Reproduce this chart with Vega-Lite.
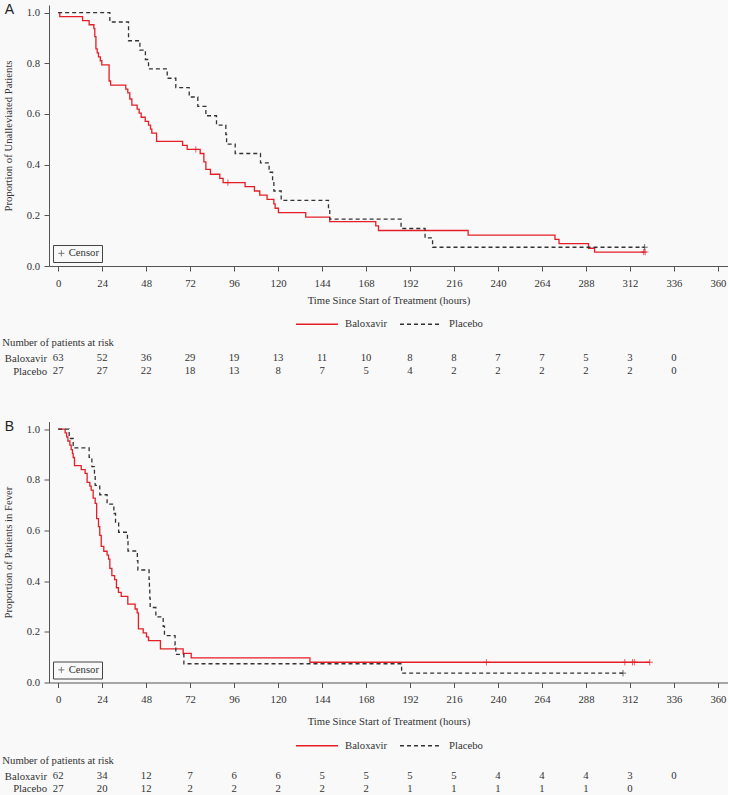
{
  "$schema": "https://vega.github.io/schema/vega-lite/v6.json",
  "background": "#f9f9f9",
  "padding": {"left": 2, "top": 3, "right": 0, "bottom": 0},
  "config": {
    "font": "Liberation Serif",
    "view": {"stroke": null},
    "axis": {"labelFont": "Liberation Serif", "titleFont": "Liberation Serif", "labelFontSize": 10.7, "titleFontSize": 10.7, "titleFontWeight": "normal", "labelColor": "#333333", "titleColor": "#333333", "domainColor": "#555555", "tickColor": "#555555", "grid": false, "tickSize": 5},
    "legend": {"labelFont": "Liberation Serif", "labelFontSize": 10.7, "labelColor": "#333333", "layout": {"bottom": {"anchor": "middle"}}},
    "title": {"font": "Liberation Serif", "fontSize": 10.7, "fontWeight": "normal", "color": "#333333"},
    "text": {"font": "Liberation Serif"}
  },
  "datasets": {
    "kmA": [
      {"t": 0, "s": 1, "g": "Baloxavir"}, {"t": 0.9, "s": 0.984, "g": "Baloxavir"}, {"t": 13.3, "s": 0.968, "g": "Baloxavir"}, {"t": 16.9, "s": 0.952, "g": "Baloxavir"}, {"t": 19.5, "s": 0.937, "g": "Baloxavir"}, {"t": 20.0, "s": 0.905, "g": "Baloxavir"}, {"t": 20.6, "s": 0.857, "g": "Baloxavir"}, {"t": 21.3, "s": 0.841, "g": "Baloxavir"}, {"t": 22.0, "s": 0.825, "g": "Baloxavir"}, {"t": 23.0, "s": 0.81, "g": "Baloxavir"}, {"t": 23.8, "s": 0.794, "g": "Baloxavir"}, {"t": 27.8, "s": 0.73, "g": "Baloxavir"}, {"t": 28.6, "s": 0.714, "g": "Baloxavir"}, {"t": 36.9, "s": 0.698, "g": "Baloxavir"}, {"t": 38.0, "s": 0.683, "g": "Baloxavir"}, {"t": 39.1, "s": 0.659, "g": "Baloxavir"}, {"t": 40.2, "s": 0.635, "g": "Baloxavir"}, {"t": 43.1, "s": 0.619, "g": "Baloxavir"}, {"t": 44.2, "s": 0.603, "g": "Baloxavir"}, {"t": 45.3, "s": 0.587, "g": "Baloxavir"}, {"t": 47.5, "s": 0.571, "g": "Baloxavir"}, {"t": 49.3, "s": 0.556, "g": "Baloxavir"}, {"t": 50.4, "s": 0.54, "g": "Baloxavir"}, {"t": 51.1, "s": 0.524, "g": "Baloxavir"}, {"t": 53.7, "s": 0.492, "g": "Baloxavir"}, {"t": 67.9, "s": 0.476, "g": "Baloxavir"}, {"t": 70.4, "s": 0.46, "g": "Baloxavir"}, {"t": 77.5, "s": 0.444, "g": "Baloxavir"}, {"t": 79.5, "s": 0.411, "g": "Baloxavir"}, {"t": 80.6, "s": 0.381, "g": "Baloxavir"}, {"t": 83.1, "s": 0.362, "g": "Baloxavir"}, {"t": 88.2, "s": 0.346, "g": "Baloxavir"}, {"t": 90.0, "s": 0.329, "g": "Baloxavir"}, {"t": 102.0, "s": 0.313, "g": "Baloxavir"}, {"t": 107.1, "s": 0.296, "g": "Baloxavir"}, {"t": 110.0, "s": 0.28, "g": "Baloxavir"}, {"t": 114.0, "s": 0.263, "g": "Baloxavir"}, {"t": 117.7, "s": 0.245, "g": "Baloxavir"}, {"t": 118.4, "s": 0.228, "g": "Baloxavir"}, {"t": 120.2, "s": 0.211, "g": "Baloxavir"}, {"t": 135.1, "s": 0.193, "g": "Baloxavir"}, {"t": 148.2, "s": 0.175, "g": "Baloxavir"}, {"t": 173.3, "s": 0.158, "g": "Baloxavir"}, {"t": 174.8, "s": 0.14, "g": "Baloxavir"}, {"t": 223.7, "s": 0.122, "g": "Baloxavir"}, {"t": 271.1, "s": 0.105, "g": "Baloxavir"}, {"t": 273.3, "s": 0.088, "g": "Baloxavir"}, {"t": 289.4, "s": 0.07, "g": "Baloxavir"}, {"t": 292.7, "s": 0.055, "g": "Baloxavir"}, {"t": 320.3, "s": 0.055, "g": "Baloxavir"},
      {"t": 0, "s": 1, "g": "Placebo"}, {"t": 28.2, "s": 0.963, "g": "Placebo"}, {"t": 38.4, "s": 0.889, "g": "Placebo"}, {"t": 44.6, "s": 0.852, "g": "Placebo"}, {"t": 47.6, "s": 0.815, "g": "Placebo"}, {"t": 49.3, "s": 0.778, "g": "Placebo"}, {"t": 59.5, "s": 0.741, "g": "Placebo"}, {"t": 64.2, "s": 0.704, "g": "Placebo"}, {"t": 71.5, "s": 0.667, "g": "Placebo"}, {"t": 76.2, "s": 0.63, "g": "Placebo"}, {"t": 80.6, "s": 0.593, "g": "Placebo"}, {"t": 86.4, "s": 0.556, "g": "Placebo"}, {"t": 91.5, "s": 0.519, "g": "Placebo"}, {"t": 91.9, "s": 0.481, "g": "Placebo"}, {"t": 96.6, "s": 0.444, "g": "Placebo"}, {"t": 110.4, "s": 0.407, "g": "Placebo"}, {"t": 115.1, "s": 0.37, "g": "Placebo"}, {"t": 117.0, "s": 0.333, "g": "Placebo"}, {"t": 117.7, "s": 0.296, "g": "Placebo"}, {"t": 121.7, "s": 0.259, "g": "Placebo"}, {"t": 147.5, "s": 0.222, "g": "Placebo"}, {"t": 148.2, "s": 0.185, "g": "Placebo"}, {"t": 187.1, "s": 0.148, "g": "Placebo"}, {"t": 200.2, "s": 0.111, "g": "Placebo"}, {"t": 204.3, "s": 0.074, "g": "Placebo"}, {"t": 320.0, "s": 0.074, "g": "Placebo"}
    ],
    "censA": [
      {"t": 75.1, "s": 0.46, "g": "Baloxavir", "k": "Censor"}, {"t": 92.6, "s": 0.329, "g": "Baloxavir", "k": "Censor"}, {"t": 319.5, "s": 0.055, "g": "Baloxavir", "k": "Censor"}, {"t": 320.3, "s": 0.055, "g": "Baloxavir", "k": "Censor"}, {"t": 320.0, "s": 0.074, "g": "Placebo", "k": "Censor"}
    ],
    "riskA": [
      {"t": 0, "g": "Baloxavir", "n": "63"}, {"t": 24, "g": "Baloxavir", "n": "52"}, {"t": 48, "g": "Baloxavir", "n": "36"}, {"t": 72, "g": "Baloxavir", "n": "29"}, {"t": 96, "g": "Baloxavir", "n": "19"}, {"t": 120, "g": "Baloxavir", "n": "13"}, {"t": 144, "g": "Baloxavir", "n": "11"}, {"t": 168, "g": "Baloxavir", "n": "10"}, {"t": 192, "g": "Baloxavir", "n": "8"}, {"t": 216, "g": "Baloxavir", "n": "8"}, {"t": 240, "g": "Baloxavir", "n": "7"}, {"t": 264, "g": "Baloxavir", "n": "7"}, {"t": 288, "g": "Baloxavir", "n": "5"}, {"t": 312, "g": "Baloxavir", "n": "3"}, {"t": 336, "g": "Baloxavir", "n": "0"},
      {"t": 0, "g": "Placebo", "n": "27"}, {"t": 24, "g": "Placebo", "n": "27"}, {"t": 48, "g": "Placebo", "n": "22"}, {"t": 72, "g": "Placebo", "n": "18"}, {"t": 96, "g": "Placebo", "n": "13"}, {"t": 120, "g": "Placebo", "n": "8"}, {"t": 144, "g": "Placebo", "n": "7"}, {"t": 168, "g": "Placebo", "n": "5"}, {"t": 192, "g": "Placebo", "n": "4"}, {"t": 216, "g": "Placebo", "n": "2"}, {"t": 240, "g": "Placebo", "n": "2"}, {"t": 264, "g": "Placebo", "n": "2"}, {"t": 288, "g": "Placebo", "n": "2"}, {"t": 312, "g": "Placebo", "n": "2"}, {"t": 336, "g": "Placebo", "n": "0"}
    ],
    "kmB": [
      {"t": 0, "s": 1, "g": "Baloxavir"}, {"t": 3.8, "s": 0.985, "g": "Baloxavir"}, {"t": 4.6, "s": 0.969, "g": "Baloxavir"}, {"t": 5.3, "s": 0.953, "g": "Baloxavir"}, {"t": 6.4, "s": 0.937, "g": "Baloxavir"}, {"t": 7.1, "s": 0.919, "g": "Baloxavir"}, {"t": 7.8, "s": 0.903, "g": "Baloxavir"}, {"t": 8.2, "s": 0.888, "g": "Baloxavir"}, {"t": 8.9, "s": 0.856, "g": "Baloxavir"}, {"t": 12.6, "s": 0.84, "g": "Baloxavir"}, {"t": 14.7, "s": 0.825, "g": "Baloxavir"}, {"t": 15.8, "s": 0.79, "g": "Baloxavir"}, {"t": 17.3, "s": 0.775, "g": "Baloxavir"}, {"t": 18.0, "s": 0.759, "g": "Baloxavir"}, {"t": 19.1, "s": 0.728, "g": "Baloxavir"}, {"t": 20.2, "s": 0.707, "g": "Baloxavir"}, {"t": 21.0, "s": 0.647, "g": "Baloxavir"}, {"t": 22.0, "s": 0.615, "g": "Baloxavir"}, {"t": 22.7, "s": 0.581, "g": "Baloxavir"}, {"t": 23.5, "s": 0.537, "g": "Baloxavir"}, {"t": 24.9, "s": 0.518, "g": "Baloxavir"}, {"t": 26.7, "s": 0.503, "g": "Baloxavir"}, {"t": 27.5, "s": 0.487, "g": "Baloxavir"}, {"t": 28.2, "s": 0.45, "g": "Baloxavir"}, {"t": 29.3, "s": 0.422, "g": "Baloxavir"}, {"t": 30.8, "s": 0.406, "g": "Baloxavir"}, {"t": 31.8, "s": 0.374, "g": "Baloxavir"}, {"t": 32.9, "s": 0.356, "g": "Baloxavir"}, {"t": 34.4, "s": 0.34, "g": "Baloxavir"}, {"t": 38.0, "s": 0.309, "g": "Baloxavir"}, {"t": 42.0, "s": 0.29, "g": "Baloxavir"}, {"t": 43.1, "s": 0.275, "g": "Baloxavir"}, {"t": 43.8, "s": 0.212, "g": "Baloxavir"}, {"t": 46.4, "s": 0.196, "g": "Baloxavir"}, {"t": 48.2, "s": 0.18, "g": "Baloxavir"}, {"t": 49.3, "s": 0.165, "g": "Baloxavir"}, {"t": 55.8, "s": 0.133, "g": "Baloxavir"}, {"t": 68.2, "s": 0.115, "g": "Baloxavir"}, {"t": 72.6, "s": 0.097, "g": "Baloxavir"}, {"t": 137.4, "s": 0.08, "g": "Baloxavir"}, {"t": 322.9, "s": 0.08, "g": "Baloxavir"},
      {"t": 0, "s": 1, "g": "Placebo"}, {"t": 6.0, "s": 0.963, "g": "Placebo"}, {"t": 8.2, "s": 0.926, "g": "Placebo"}, {"t": 16.9, "s": 0.889, "g": "Placebo"}, {"t": 18.4, "s": 0.852, "g": "Placebo"}, {"t": 19.8, "s": 0.815, "g": "Placebo"}, {"t": 20.2, "s": 0.778, "g": "Placebo"}, {"t": 22.7, "s": 0.741, "g": "Placebo"}, {"t": 26.7, "s": 0.704, "g": "Placebo"}, {"t": 30.4, "s": 0.667, "g": "Placebo"}, {"t": 31.3, "s": 0.63, "g": "Placebo"}, {"t": 33.0, "s": 0.593, "g": "Placebo"}, {"t": 37.8, "s": 0.556, "g": "Placebo"}, {"t": 38.1, "s": 0.519, "g": "Placebo"}, {"t": 43.2, "s": 0.481, "g": "Placebo"}, {"t": 43.5, "s": 0.444, "g": "Placebo"}, {"t": 49.6, "s": 0.407, "g": "Placebo"}, {"t": 49.8, "s": 0.37, "g": "Placebo"}, {"t": 50.0, "s": 0.333, "g": "Placebo"}, {"t": 50.2, "s": 0.296, "g": "Placebo"}, {"t": 53.3, "s": 0.259, "g": "Placebo"}, {"t": 57.3, "s": 0.222, "g": "Placebo"}, {"t": 58.0, "s": 0.185, "g": "Placebo"}, {"t": 63.8, "s": 0.148, "g": "Placebo"}, {"t": 64.2, "s": 0.111, "g": "Placebo"}, {"t": 68.6, "s": 0.074, "g": "Placebo"}, {"t": 187.4, "s": 0.037, "g": "Placebo"}, {"t": 308.2, "s": 0.037, "g": "Placebo"}
    ],
    "censB": [
      {"t": 233.7, "s": 0.08, "g": "Baloxavir", "k": "Censor"}, {"t": 309.2, "s": 0.08, "g": "Baloxavir", "k": "Censor"}, {"t": 313.4, "s": 0.08, "g": "Baloxavir", "k": "Censor"}, {"t": 314.4, "s": 0.08, "g": "Baloxavir", "k": "Censor"}, {"t": 322.8, "s": 0.08, "g": "Baloxavir", "k": "Censor"}, {"t": 308.2, "s": 0.037, "g": "Placebo", "k": "Censor"}
    ],
    "riskB": [
      {"t": 0, "g": "Baloxavir", "n": "62"}, {"t": 24, "g": "Baloxavir", "n": "34"}, {"t": 48, "g": "Baloxavir", "n": "12"}, {"t": 72, "g": "Baloxavir", "n": "7"}, {"t": 96, "g": "Baloxavir", "n": "6"}, {"t": 120, "g": "Baloxavir", "n": "6"}, {"t": 144, "g": "Baloxavir", "n": "5"}, {"t": 168, "g": "Baloxavir", "n": "5"}, {"t": 192, "g": "Baloxavir", "n": "5"}, {"t": 216, "g": "Baloxavir", "n": "5"}, {"t": 240, "g": "Baloxavir", "n": "4"}, {"t": 264, "g": "Baloxavir", "n": "4"}, {"t": 288, "g": "Baloxavir", "n": "4"}, {"t": 312, "g": "Baloxavir", "n": "3"}, {"t": 336, "g": "Baloxavir", "n": "0"},
      {"t": 0, "g": "Placebo", "n": "27"}, {"t": 24, "g": "Placebo", "n": "20"}, {"t": 48, "g": "Placebo", "n": "12"}, {"t": 72, "g": "Placebo", "n": "2"}, {"t": 96, "g": "Placebo", "n": "2"}, {"t": 120, "g": "Placebo", "n": "2"}, {"t": 144, "g": "Placebo", "n": "2"}, {"t": 168, "g": "Placebo", "n": "2"}, {"t": 192, "g": "Placebo", "n": "1"}, {"t": 216, "g": "Placebo", "n": "1"}, {"t": 240, "g": "Placebo", "n": "1"}, {"t": 264, "g": "Placebo", "n": "1"}, {"t": 288, "g": "Placebo", "n": "1"}, {"t": 312, "g": "Placebo", "n": "0"}
    ]
  },
  "spacing": 41.5,
  "resolve": {"scale": {"x": "independent", "y": "independent", "color": "independent", "strokeDash": "independent", "shape": "independent"}, "legend": {"color": "independent", "strokeDash": "independent", "shape": "independent"}},
  "vconcat": [
    {
      "spacing": 8,
      "resolve": {"scale": {"x": "independent", "y": "independent", "color": "independent", "strokeDash": "independent", "shape": "independent"}, "legend": {"color": "independent", "strokeDash": "independent", "shape": "independent"}},
      "vconcat": [
        {
          "width": 679, "height": 261,
          "title": {"text": "A", "anchor": "start", "frame": "bounds", "font": "Liberation Sans", "fontSize": 14, "offset": -12, "dx": 2, "color": "#222222"},
          "layer": [
            {
              "data": {"name": "kmA"},
              "mark": {"type": "line", "interpolate": "step-after", "strokeWidth": 1.3},
              "encoding": {
                "x": {"field": "t", "type": "quantitative", "scale": {"domain": [-5, 365.5], "nice": false, "zero": false}, "axis": {"values": [0, 24, 48, 72, 96, 120, 144, 168, 192, 216, 240, 264, 288, 312, 336, 360], "title": "Time Since Start of Treatment (hours)", "labelFont": "Liberation Serif", "titleFont": "Liberation Serif", "labelPadding": 7, "titlePadding": 7.5}},
                "y": {"field": "s", "type": "quantitative", "scale": {"domain": [0, 1.03], "nice": false}, "axis": {"values": [0, 0.2, 0.4, 0.6, 0.8, 1.0], "format": ".1f", "title": "Proportion of Unalleviated Patients", "labelFont": "Liberation Serif", "titleFont": "Liberation Serif", "labelPadding": 4.5, "titlePadding": 12.5}},
                "color": {"field": "g", "type": "nominal", "scale": {"domain": ["Baloxavir", "Placebo"], "range": ["#e41e26", "#333333"]}, "legend": {"title": null, "orient": "bottom", "direction": "horizontal", "symbolType": "stroke", "symbolSize": 1764, "symbolStrokeWidth": 1.5, "labelOffset": 6, "columnPadding": 9, "offset": -3.5, "labelFont": "Liberation Serif"}},
                "strokeDash": {"field": "g", "type": "nominal", "scale": {"domain": ["Baloxavir", "Placebo"], "range": [[1, 0], [4, 3]]}, "legend": {"title": null, "orient": "bottom", "direction": "horizontal", "symbolType": "stroke", "symbolSize": 1764, "symbolStrokeWidth": 1.5, "labelOffset": 6, "columnPadding": 9, "offset": -3.5, "labelFont": "Liberation Serif"}}
              }
            },
            {
              "data": {"name": "censA"},
              "mark": {"type": "point", "filled": false, "strokeWidth": 1, "size": 40},
              "encoding": {
                "x": {"field": "t", "type": "quantitative"},
                "y": {"field": "s", "type": "quantitative"},
                "color": {"field": "g", "type": "nominal", "legend": null},
                "shape": {"field": "k", "type": "nominal", "scale": {"domain": ["Censor"], "range": ["M-1,0H1M0,-1V1"]}, "legend": {"title": null, "orient": "bottom-left", "strokeColor": "#444444", "padding": 3, "offset": 4, "symbolSize": 36, "symbolStrokeColor": "#444444", "symbolStrokeWidth": 1, "symbolFillColor": "transparent", "labelOffset": 2, "labelFont": "Liberation Serif"}}
              }
            }
          ]
        },
        {
          "width": 679, "height": 25.4,
          "title": {"text": "Number of patients at risk", "anchor": "start", "frame": "bounds", "offset": 3, "dx": -2, "font": "Liberation Serif"},
          "data": {"name": "riskA"},
          "mark": {"type": "text", "baseline": "middle", "align": "center", "fontSize": 10.7, "font": "Liberation Serif", "color": "#333333"},
          "encoding": {
            "x": {"field": "t", "type": "quantitative", "scale": {"domain": [-5, 365.5], "nice": false, "zero": false}, "axis": null},
            "y": {"field": "g", "type": "nominal", "scale": {"domain": ["Baloxavir", "Placebo"], "paddingInner": 0, "paddingOuter": 0}, "axis": {"title": null, "ticks": false, "domain": false, "labelPadding": 2.5, "labelFont": "Liberation Serif"}},
            "text": {"field": "n", "type": "nominal"}
          }
        }
      ]
    },
    {
      "spacing": 4.35,
      "resolve": {"scale": {"x": "independent", "y": "independent", "color": "independent", "strokeDash": "independent", "shape": "independent"}, "legend": {"color": "independent", "strokeDash": "independent", "shape": "independent"}},
      "vconcat": [
        {
          "width": 679, "height": 261,
          "title": {"text": "B", "anchor": "start", "frame": "bounds", "font": "Liberation Sans", "fontSize": 14, "offset": -12, "dx": 2, "color": "#222222"},
          "layer": [
            {
              "data": {"name": "kmB"},
              "mark": {"type": "line", "interpolate": "step-after", "strokeWidth": 1.3},
              "encoding": {
                "x": {"field": "t", "type": "quantitative", "scale": {"domain": [-5, 365.5], "nice": false, "zero": false}, "axis": {"values": [0, 24, 48, 72, 96, 120, 144, 168, 192, 216, 240, 264, 288, 312, 336, 360], "title": "Time Since Start of Treatment (hours)", "labelFont": "Liberation Serif", "titleFont": "Liberation Serif", "labelPadding": 7, "titlePadding": 12.5}},
                "y": {"field": "s", "type": "quantitative", "scale": {"domain": [0, 1.03], "nice": false}, "axis": {"values": [0, 0.2, 0.4, 0.6, 0.8, 1.0], "format": ".1f", "title": "Proportion of Patients in Fever", "labelFont": "Liberation Serif", "titleFont": "Liberation Serif", "labelPadding": 4.5, "titlePadding": 12.5}},
                "color": {"field": "g", "type": "nominal", "scale": {"domain": ["Baloxavir", "Placebo"], "range": ["#e41e26", "#333333"]}, "legend": {"title": null, "orient": "bottom", "direction": "horizontal", "symbolType": "stroke", "symbolSize": 1764, "symbolStrokeWidth": 1.5, "labelOffset": 6, "columnPadding": 9, "offset": -3.5, "labelFont": "Liberation Serif"}},
                "strokeDash": {"field": "g", "type": "nominal", "scale": {"domain": ["Baloxavir", "Placebo"], "range": [[1, 0], [4, 3]]}, "legend": {"title": null, "orient": "bottom", "direction": "horizontal", "symbolType": "stroke", "symbolSize": 1764, "symbolStrokeWidth": 1.5, "labelOffset": 6, "columnPadding": 9, "offset": -3.5, "labelFont": "Liberation Serif"}}
              }
            },
            {
              "data": {"name": "censB"},
              "mark": {"type": "point", "filled": false, "strokeWidth": 1, "size": 40},
              "encoding": {
                "x": {"field": "t", "type": "quantitative"},
                "y": {"field": "s", "type": "quantitative"},
                "color": {"field": "g", "type": "nominal", "legend": null},
                "shape": {"field": "k", "type": "nominal", "scale": {"domain": ["Censor"], "range": ["M-1,0H1M0,-1V1"]}, "legend": {"title": null, "orient": "bottom-left", "strokeColor": "#444444", "padding": 3, "offset": 4, "symbolSize": 36, "symbolStrokeColor": "#444444", "symbolStrokeWidth": 1, "symbolFillColor": "transparent", "labelOffset": 2, "labelFont": "Liberation Serif"}}
              }
            }
          ]
        },
        {
          "width": 679, "height": 25.4,
          "title": {"text": "Number of patients at risk", "anchor": "start", "frame": "bounds", "offset": 3, "dx": -2, "font": "Liberation Serif"},
          "data": {"name": "riskB"},
          "mark": {"type": "text", "baseline": "middle", "align": "center", "fontSize": 10.7, "font": "Liberation Serif", "color": "#333333"},
          "encoding": {
            "x": {"field": "t", "type": "quantitative", "scale": {"domain": [-5, 365.5], "nice": false, "zero": false}, "axis": null},
            "y": {"field": "g", "type": "nominal", "scale": {"domain": ["Baloxavir", "Placebo"], "paddingInner": 0, "paddingOuter": 0}, "axis": {"title": null, "ticks": false, "domain": false, "labelPadding": 2.5, "labelFont": "Liberation Serif"}},
            "text": {"field": "n", "type": "nominal"}
          }
        }
      ]
    }
  ]
}
